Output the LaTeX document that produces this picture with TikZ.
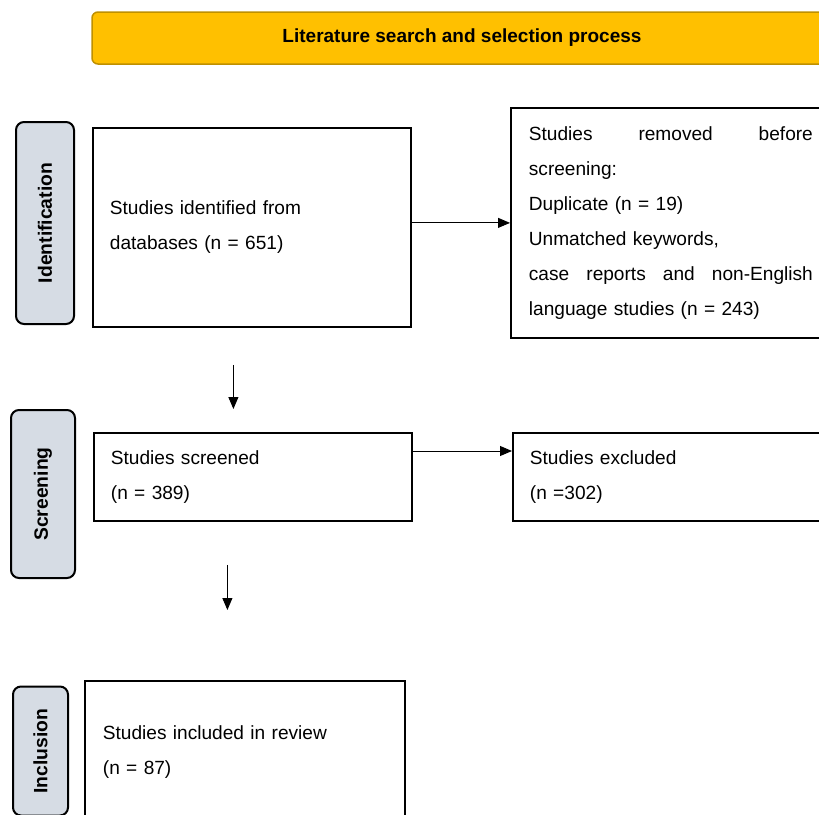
\documentclass[tikz,border=0pt]{standalone}
\usepackage{fontspec}
\setmainfont{Liberation Sans}
\usetikzlibrary{positioning, arrows.meta, calc}
\definecolor{titlefill}{HTML}{FFC000}
\definecolor{titleline}{HTML}{BF9000}
\definecolor{stagefill}{HTML}{D6DCE4}
\tikzset{
  titlebox/.style={rectangle, rounded corners=6pt, draw=titleline, line width=1.5pt, fill=titlefill, font=\fontsize{19}{35}\selectfont\bfseries, minimum width=740pt, minimum height=52pt},
  stage/.style={rectangle, rounded corners=8pt, draw=black, line width=2pt, fill=stagefill, font=\fontsize{19.3}{35}\selectfont\bfseries, rotate=90},
  process/.style={rectangle, draw=black, line width=1.8pt, align=left, inner xsep=17pt, anchor=north west, text width=284pt},
  arrow/.style={line width=0.9pt, -{Triangle[length=12pt,width=10pt]}}
}

\begin{document}
\begin{tikzpicture}[
        x=1pt, y=-1pt,
        every node/.style={font=\fontsize{19.1}{35}\selectfont}
    ]
        \path[use as bounding box, clip] (0,0) rectangle (819,814);

        % --- Titulo ---
        \node (titulo) [titlebox] at (462,38) {Literature search and selection process};

        % --- Etapas (izquierda) ---
        \node (identificacion) [stage, minimum width=202pt, minimum height=58pt] at (45,223) {Identification};
        \node (cribado) [stage, minimum width=168pt, minimum height=64pt] at (43,494) {Screening};
        \node (inclusion) [stage, minimum width=129pt, minimum height=55pt] at (40.5,751) {Inclusion};

        % --- Cajas del proceso ---
        \node (ident) [process, minimum height=199pt] at (92,127) {Studies identified from\\ databases (n = 651)};
        \node (removed) [process, inner xsep=18pt, minimum height=230pt] at (510,107) {Studies\hfill removed\hfill before\\ screening:\\ Duplicate (n = 19)\\ Unmatched keywords,\\ case\hfill reports\hfill and\hfill non-English\\ language studies (n = 243)};
        \node (screened) [process, minimum height=88pt] at (93,432) {Studies screened\\ (n = 389)};
        \node (excluded) [process, minimum height=88pt] at (512,432) {Studies excluded\\ (n =302)};
        \node (included) [process, inner xsep=18pt, minimum height=142pt] at (84,680) {Studies included in review\\ (n = 87)};

        % --- Conexiones ---
        \draw [arrow] (ident.east |- removed.west) -- (removed.west);
        \draw [arrow, shorten <=37pt, shorten >=23pt] ([xshift=-18.5pt]ident.south) -- ([xshift=-18.5pt]ident.south |- screened.north);
        \draw [arrow] ([yshift=-19pt]screened.north east) -- ([yshift=-19pt]excluded.north west);
        \draw [arrow, shorten <=43pt, shorten >=70pt] ([xshift=-25.5pt]screened.south) -- ([xshift=-25.5pt]screened.south |- included.north);

    \end{tikzpicture}
\end{document}
